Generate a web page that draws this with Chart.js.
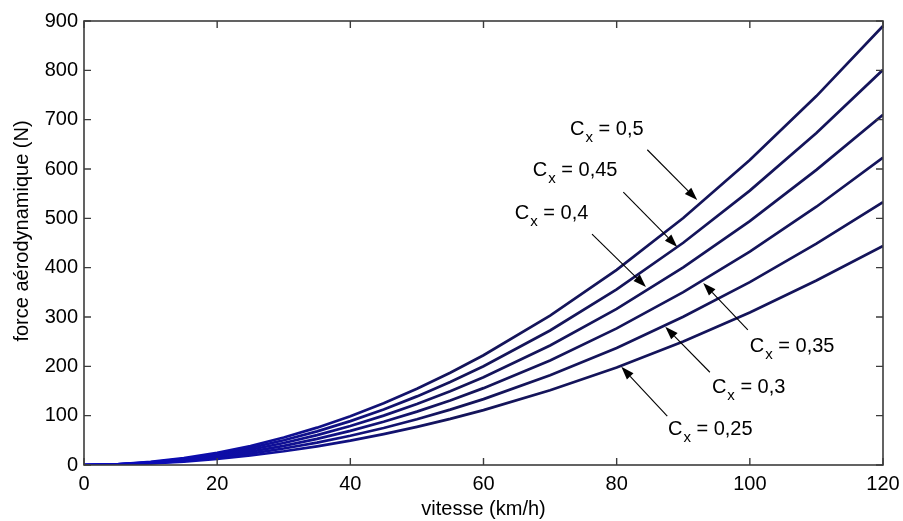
<!DOCTYPE html>
<html>
<head>
<meta charset="utf-8">
<script src="https://cdn.jsdelivr.net/npm/chart.js@4/dist/chart.umd.min.js"></script>
<style>
html,body{margin:0;padding:0;background:#fff;}
#wrap{width:903px;height:521px;position:relative;}
</style>
</head>
<body>
<div id="wrap"><canvas id="c"></canvas></div>
<script>
// vitesse (km/h)
const speeds = [0,5,10,15,20,25,30,35,40,45,50,55,60,70,80,90,100,110,120];
// force aérodynamique (N) for each Cx
const forceCx050 = [0,1.5,6.2,13.9,24.7,38.6,55.6,75.7,98.9,125.2,154.5,187.0,222.5,302.8,395.6,500.6,618.1,747.8,890];
const forceCx045 = [0,1.4,5.6,12.5,22.2,34.8,50.1,68.1,89.0,112.6,139.1,168.3,200.3,272.6,356.0,450.5,556.2,673.1,801];
const forceCx040 = [0,1.2,4.9,11.1,19.8,30.9,44.5,60.6,79.1,100.1,123.6,149.6,178.0,242.3,316.4,400.5,494.4,598.3,710];
const forceCx035 = [0,1.1,4.3,9.7,17.3,27.0,38.9,53.0,69.2,87.6,108.2,130.9,155.8,212.0,276.9,350.4,432.6,523.5,623];
const forceCx030 = [0,0.9,3.7,8.3,14.8,23.2,33.4,45.4,59.3,75.1,92.7,112.2,133.5,181.7,237.3,300.4,370.8,448.7,533];
const forceCx025 = [0,0.8,3.1,7.0,12.4,19.3,27.8,37.9,49.4,62.6,77.3,93.5,111.3,151.4,197.8,250.3,309.0,373.9,444];
const cxLabels = ['0,5','0,45','0,4','0,35','0,3','0,25'];
const xTicks = [0,20,40,60,80,100,120];
const yTicks = [0,100,200,300,400,500,600,700,800,900];

// annotation placement in data units: text anchor, arrow tail, arrow head
const annotTextX = [73.0, 67.4, 64.7, 100.0, 94.3, 87.7];
const annotTextY = [669, 586, 499, 229, 146, 61];
const arrowFromX = [84.6, 81.0, 76.3, 99.7, 94.0, 87.6];
const arrowFromY = [639, 553, 468, 274, 188, 99];
const arrowToX   = [92.1, 89.1, 84.4, 93.0, 87.3, 80.7];
const arrowToY   = [537, 442, 361, 369, 280, 199];

const series = [forceCx050, forceCx045, forceCx040, forceCx035, forceCx030, forceCx025];
const FONT = '"Liberation Sans", Arial, sans-serif';

function lineColor(ctx){
  const chart = ctx.chart;
  const area = chart.chartArea;
  if(!area) return '#14145a';
  const xs = chart.scales.x;
  const g = chart.ctx.createLinearGradient(xs.getPixelForValue(0),0,xs.getPixelForValue(55),0);
  g.addColorStop(0,'#0808c8');
  g.addColorStop(0.45,'#0e0ea0');
  g.addColorStop(1,'#14145a');
  return g;
}

const datasets = series.map((arr,i)=>({
  label: 'Cx = ' + cxLabels[i],
  data: speeds.map((v,j)=>({x:v,y:arr[j]})),
  borderColor: lineColor,
  borderWidth: 2.7,
  pointRadius: 0,
  fill: false,
  tension: 0
}));

const framePlugin = {
  id:'frame',
  afterDatasetsDraw(chart){
    const c = chart.ctx;
    const xs = chart.scales.x, ys = chart.scales.y;
    const a = chart.chartArea;
    c.save();
    // box
    c.strokeStyle = '#3c3c3c';
    c.lineWidth = 1.6;
    c.strokeRect(a.left, a.top, a.right-a.left, a.bottom-a.top);
    // inward ticks
    c.lineWidth = 1.4;
    const tl = 7;
    c.beginPath();
    xTicks.forEach(v=>{
      const px = xs.getPixelForValue(v);
      c.moveTo(px, a.bottom); c.lineTo(px, a.bottom-tl);
      c.moveTo(px, a.top); c.lineTo(px, a.top+tl);
    });
    yTicks.forEach(v=>{
      const py = ys.getPixelForValue(v);
      c.moveTo(a.left, py); c.lineTo(a.left+tl, py);
      c.moveTo(a.right, py); c.lineTo(a.right-tl, py);
    });
    c.stroke();

    // axis titles
    c.fillStyle = '#000';
    c.font = '20px ' + FONT;
    c.textAlign = 'center';
    c.textBaseline = 'alphabetic';
    c.fillText('vitesse (km/h)', (a.left+a.right)/2, 515);
    c.save();
    c.translate(28, 231);
    c.rotate(-Math.PI/2);
    c.fillText('force aérodynamique (N)', 0, 0);
    c.restore();

    // annotations
    for(let i=0;i<cxLabels.length;i++){
      const tx = xs.getPixelForValue(annotTextX[i]);
      const ty = ys.getPixelForValue(annotTextY[i]);
      c.textAlign = 'left';
      c.font = '20px ' + FONT;
      c.fillText('C', tx, ty);
      const wC = c.measureText('C').width;
      c.font = '15px ' + FONT;
      c.fillText('x', tx + wC + 1, ty + 7);
      const wx = c.measureText('x').width;
      c.font = '20px ' + FONT;
      c.fillText(' = ' + cxLabels[i], tx + wC + wx + 1, ty);

      const x1 = xs.getPixelForValue(arrowFromX[i]), y1 = ys.getPixelForValue(arrowFromY[i]);
      const x2 = xs.getPixelForValue(arrowToX[i]), y2 = ys.getPixelForValue(arrowToY[i]);
      const ang = Math.atan2(y2-y1, x2-x1);
      const hl = 13, hw = 4.5;
      const bx = x2 - hl*Math.cos(ang), by = y2 - hl*Math.sin(ang);
      c.strokeStyle = '#000';
      c.lineWidth = 1.1;
      c.beginPath(); c.moveTo(x1,y1); c.lineTo(bx,by); c.stroke();
      c.beginPath();
      c.moveTo(x2,y2);
      c.lineTo(bx + hw*Math.sin(ang), by - hw*Math.cos(ang));
      c.lineTo(bx - hw*Math.sin(ang), by + hw*Math.cos(ang));
      c.closePath();
      c.fillStyle = '#000';
      c.fill();
    }
    c.restore();
  }
};

new Chart(document.getElementById('c'), {
  type: 'line',
  data: { datasets },
  options: {
    responsive: true,
    maintainAspectRatio: false,
    animation: false,
    events: [],
    layout: { padding: { top: 21, right: 20, left: 0, bottom: 0 } },
    plugins: { legend: { display: false }, tooltip: { enabled: false } },
    scales: {
      x: {
        type: 'linear', min: 0, max: 120,
        afterBuildTicks: s => { s.ticks = xTicks.map(v=>({value:v})); },
        afterFit: s => { s.height = 56; s.paddingLeft = 0; s.paddingRight = 0; },
        grid: { display: false, drawTicks: false },
        border: { display: false },
        ticks: { font: { family: FONT, size: 20 }, color: '#000', padding: 7, maxRotation: 0 }
      },
      y: {
        type: 'linear', min: 0, max: 900,
        afterBuildTicks: s => { s.ticks = yTicks.map(v=>({value:v})); },
        afterFit: s => { s.width = 84; s.paddingTop = 0; s.paddingBottom = 0; },
        grid: { display: false, drawTicks: false },
        border: { display: false },
        ticks: { font: { family: FONT, size: 20 }, color: '#000', padding: 6 }
      }
    }
  },
  plugins: [framePlugin]
});
</script>
</body>
</html>
